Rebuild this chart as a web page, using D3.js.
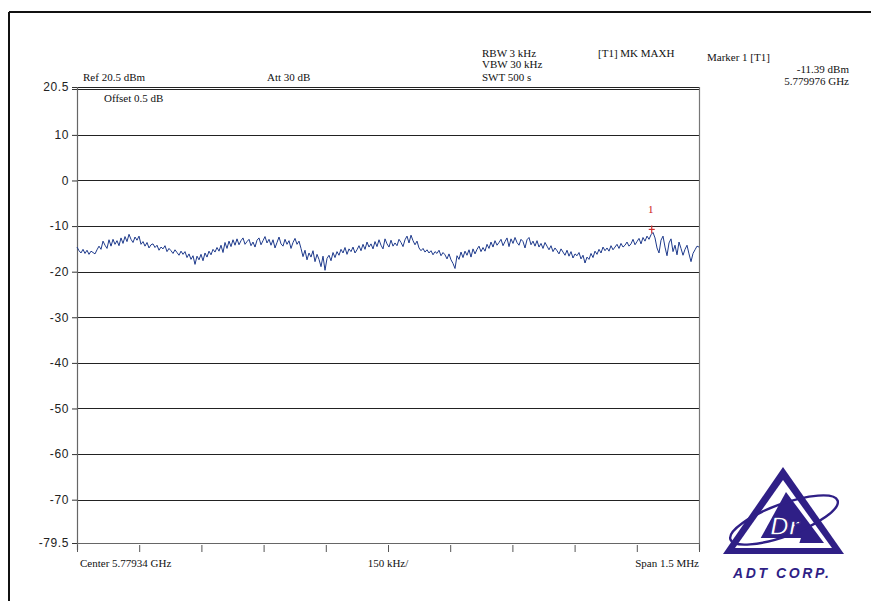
<!DOCTYPE html>
<html>
<head>
<meta charset="utf-8">
<script src="https://cdn.jsdelivr.net/npm/d3@7"></script>
<style>
  html, body { margin: 0; padding: 0; background: #fff; overflow: hidden; }
  svg { display: block; }
  .serif { font-family: "Liberation Serif", "Times New Roman", serif; font-size: 11px; fill: #111; }
</style>
</head>
<body>
<svg id="chart" width="871" height="601"></svg>
<script>
// ---------------- DATA ----------------
const centerMHz = 5779.34;      // Center 5.77934 GHz
const spanMHz = 1.5;            // Span 1.5 MHz
const divMHz = 0.15;            // 150 kHz/div
const refLevel = 20.5;          // Ref 20.5 dBm
const bottomLevel = -79.5;
const yTickValues = [20.5, 10, 0, -10, -20, -30, -40, -50, -60, -70, -79.5];
const yTickLabels = ["20.5", "10", "0", "-10", "-20", "-30", "-40", "-50", "-60", "-70", "-79.5"];
const headerLabels = ["Ref 20.5 dBm", "Att 30 dB", "RBW 3 kHz", "VBW 30 kHz", "SWT 500 s", "[T1] MK MAXH", "Offset 0.5 dB"];
const markerName = "Marker 1 [T1]";
const markerLevel = -11.39;     // dBm
const markerFreqGHz = 5.779976; // GHz
const bottomLabels = ["Center 5.77934 GHz", "150 kHz/", "Span 1.5 MHz"];

// trace levels (dBm), evenly spaced sweep points across the span
const traceLevels = [
  -14.6, -15.4, -15.9, -15.1, -16.0, -15.3, -16.2, -15.5, -15.8, -16.1,
  -15.2, -14.4, -15.1, -13.3, -14.2, -14.9, -13.0, -14.4, -12.9, -14.0,
  -13.2, -14.3, -12.6, -13.8, -12.3, -13.4, -11.8, -12.9, -13.6, -12.4,
  -13.1, -12.2, -14.0, -13.4, -14.4, -13.6, -14.8, -14.1, -13.9, -14.7,
  -14.2, -15.3, -14.6, -15.0, -14.3, -15.6, -14.9, -15.4, -16.0, -15.2,
  -15.8, -16.4, -15.5, -16.2, -15.6, -16.9, -16.1, -17.3, -16.5, -18.4,
  -16.6, -17.4, -16.2, -17.6, -15.9, -16.8, -15.5, -16.3, -15.1, -15.7,
  -14.7, -15.5, -14.2, -15.8, -13.6, -14.9, -13.3, -14.5, -13.0, -14.2,
  -12.8, -14.1, -13.2, -12.6, -14.0, -13.4, -12.9, -14.3, -13.5, -14.6,
  -13.1, -12.6, -14.1, -13.2, -12.3, -13.7, -12.9, -14.2, -13.0, -14.8,
  -13.6, -12.4, -13.9, -14.4, -12.9, -14.0, -13.2, -14.9, -13.6, -12.7,
  -14.0, -13.3, -14.9, -16.7, -15.3, -17.4, -15.9, -16.8, -15.4, -17.8,
  -16.2, -17.3, -18.9, -16.6, -19.7, -17.1, -16.4, -17.6, -15.8, -16.9,
  -15.6, -16.4, -15.1, -15.9, -14.7, -16.2, -15.0, -15.6, -14.6, -15.9,
  -15.2, -14.3, -15.4, -14.0, -15.1, -13.5, -14.6, -13.9, -15.0, -13.4,
  -14.5, -13.0, -14.2, -15.0, -12.8, -13.9, -14.6, -13.1, -14.4, -13.7,
  -14.3, -12.9, -13.6, -14.5, -13.0, -12.2, -13.7, -12.0, -13.2, -14.1,
  -13.3, -14.8, -15.4, -14.9, -15.7, -15.2, -15.9, -15.4, -16.3, -15.6,
  -16.0, -15.3, -16.5, -15.8, -16.3, -17.2, -16.1, -17.4, -18.2, -19.3,
  -16.5, -17.3, -15.7, -16.9, -15.5, -16.4, -15.2, -16.8, -15.0, -16.1,
  -15.1, -14.4, -15.6, -14.7, -15.5, -14.0, -14.9, -13.5, -14.6, -13.2,
  -14.2, -13.6, -12.9, -14.3, -13.4, -12.6, -14.5, -12.8, -13.8, -12.5,
  -13.6, -14.2, -12.9, -13.4, -14.8, -13.0, -12.5, -14.1, -13.3, -14.4,
  -13.2, -14.6, -13.8, -14.9, -13.6, -14.4, -15.2, -14.3, -15.6, -14.8,
  -15.4, -16.1, -15.0, -15.7, -16.4, -15.3, -16.6, -15.6, -17.0, -16.1,
  -16.5, -15.8, -17.2, -16.4, -18.1, -16.8, -17.3, -16.0, -16.9, -15.5,
  -16.2, -15.1, -15.9, -14.6, -15.4, -14.8, -15.5, -14.3, -15.2, -14.6,
  -14.0, -14.9, -13.8, -14.6, -14.2, -13.5, -14.4, -13.9, -12.9, -14.1,
  -13.4, -12.7, -13.9, -12.5, -13.3, -12.2, -12.9, -11.9, -11.4, -12.6,
  -14.8, -15.9, -13.1, -12.2, -14.6, -16.5, -13.7, -12.8, -15.6, -14.2,
  -16.3, -13.5, -14.9, -16.4, -15.1, -14.2, -16.1, -17.8, -16.0, -15.2,
  -14.4, -14.6
];

// ---------------- LAYOUT ----------------
const svg = d3.select("#chart");
const plot = { left: 77, right: 699, top: 87, bottom: 543 };
const startMHz = centerMHz - spanMHz / 2;
const stopMHz = centerMHz + spanMHz / 2;

const x = d3.scaleLinear().domain([startMHz, stopMHz]).range([plot.left, plot.right]);
const y = d3.scaleLinear().domain([bottomLevel, refLevel]).range([plot.bottom, plot.top]);

const n = traceLevels.length;
const trace = traceLevels.map((v, i) => ({ f: startMHz + i * spanMHz / (n - 1), v }));

// outer frame (top and left edges visible)
svg.append("line").attr("x1", 9).attr("x2", 871).attr("y1", 12).attr("y2", 12)
  .attr("stroke", "#111").attr("stroke-width", 2);
svg.append("line").attr("x1", 9).attr("x2", 9).attr("y1", 12).attr("y2", 601)
  .attr("stroke", "#111").attr("stroke-width", 2);

// gridlines
const gridVals = yTickValues.filter(v => v !== refLevel && v !== bottomLevel);
svg.append("g").selectAll("line").data(gridVals).join("line")
  .attr("x1", plot.left).attr("x2", plot.right)
  .attr("y1", d => Math.round(y(d)) + 0.5).attr("y2", d => Math.round(y(d)) + 0.5)
  .attr("stroke", "#222").attr("stroke-width", 1.2);

// top double line
[0, 2].forEach(o => svg.append("line").attr("x1", plot.left).attr("x2", plot.right)
  .attr("y1", y(refLevel) + o + 0.5).attr("y2", y(refLevel) + o + 0.5)
  .attr("stroke", "#222").attr("stroke-width", 1.2));

// plot frame left/right
svg.append("line").attr("x1", plot.left + 0.5).attr("x2", plot.left + 0.5).attr("y1", plot.top).attr("y2", plot.bottom)
  .attr("stroke", "#666").attr("stroke-width", 1.2);
svg.append("line").attr("x1", plot.right + 0.5).attr("x2", plot.right + 0.5).attr("y1", plot.top).attr("y2", plot.bottom)
  .attr("stroke", "#777").attr("stroke-width", 1.2);

// y axis
const yAxis = d3.axisLeft(y).tickValues(yTickValues)
  .tickFormat((d, i) => yTickLabels[i]).tickSize(5).tickPadding(3);
const gy = svg.append("g").attr("transform", `translate(${plot.left},0)`).call(yAxis);
gy.select(".domain").attr("stroke", "#666");
gy.selectAll(".tick line").attr("stroke", "#333");
gy.selectAll(".tick text").attr("font-family", "'Liberation Sans', Arial, sans-serif")
  .attr("font-size", 12).attr("letter-spacing", 0.6).attr("fill", "#222");
// double tick at ref level
svg.append("line").attr("x1", plot.left - 5).attr("x2", plot.left)
  .attr("y1", y(refLevel) + 2.5).attr("y2", y(refLevel) + 2.5).attr("stroke", "#333");

// x axis (ticks only)
const xTicks = d3.range(0, 11).map(i => startMHz + i * divMHz);
const xAxis = d3.axisBottom(x).tickValues(xTicks).tickSize(7).tickFormat("");
const gx = svg.append("g").attr("transform", `translate(0,${plot.bottom})`).call(xAxis);
gx.select(".domain").attr("stroke", "#666").attr("stroke-width", 1.2);
gx.selectAll(".tick line").attr("stroke", "#555").attr("y1", 2).attr("y2", 9);

// bottom labels
svg.append("text").attr("class", "serif").attr("x", plot.left + 3).attr("y", 567).text(bottomLabels[0]);
svg.append("text").attr("class", "serif").attr("x", x(startMHz + 5 * divMHz)).attr("y", 567)
  .attr("text-anchor", "middle").text(bottomLabels[1]);
svg.append("text").attr("class", "serif").attr("x", plot.right).attr("y", 567)
  .attr("text-anchor", "end").text(bottomLabels[2]);

// header labels
const hdr = [
  [headerLabels[0], 83, 81], [headerLabels[1], 267, 81],
  [headerLabels[2], 482, 57], [headerLabels[3], 482, 68], [headerLabels[4], 482, 81],
  [headerLabels[5], 598, 57], [headerLabels[6], 104, 102]
];
hdr.forEach(([t, hx, hy]) => svg.append("text").attr("class", "serif").attr("x", hx).attr("y", hy).text(t));
svg.append("text").attr("class", "serif").attr("x", 707).attr("y", 61).text(markerName);
svg.append("text").attr("class", "serif").attr("x", 849).attr("y", 73).attr("text-anchor", "end")
  .text(`${markerLevel.toFixed(2)} dBm`);
svg.append("text").attr("class", "serif").attr("x", 849).attr("y", 85).attr("text-anchor", "end")
  .text(`${markerFreqGHz.toFixed(6)} GHz`);

// trace
const line = d3.line().x(d => x(d.f)).y(d => y(d.v));
svg.append("path").datum(trace).attr("d", line)
  .attr("fill", "none").attr("stroke", "#1e3a8c").attr("stroke-width", 1).attr("stroke-linejoin", "round");

// marker
const mx = x(markerFreqGHz * 1000), my = y(markerLevel);
svg.append("line").attr("x1", mx).attr("x2", mx).attr("y1", my - 7).attr("y2", my + 1)
  .attr("stroke", "#d03030").attr("stroke-width", 1.2);
svg.append("line").attr("x1", mx - 3).attr("x2", mx + 3).attr("y1", my - 3).attr("y2", my - 3)
  .attr("stroke", "#d03030").attr("stroke-width", 1.2);
svg.append("text").attr("class", "serif").attr("x", mx - 1).attr("y", my - 19)
  .attr("text-anchor", "middle").style("fill", "#cc2020").attr("font-size", 12).text("1");

// ---------------- LOGO (ADT CORP.) ----------------
const purple = "#2f1f86";
const logo = svg.append("g");
logo.append("path").attr("d", "M783,467 L844,554 L723,554 Z").attr("fill", purple);
logo.append("path").attr("d", "M783,480 L832,548 L735,548 Z").attr("fill", "#fff");
logo.append("path").attr("d", "M786,492 L824,543 L758,543 Z").attr("fill", purple);
logo.append("path").attr("d", "M771,499 L777,499 L757,538 L801,538 L799,544 L749,544 Z").attr("fill", "#fff");
logo.append("ellipse").attr("cx", 784).attr("cy", 520).attr("rx", 57).attr("ry", 16)
  .attr("transform", "rotate(-20,784,520)").attr("fill", "none").attr("stroke", purple).attr("stroke-width", 2.4);
logo.append("text").attr("x", 770).attr("y", 535)
  .attr("font-family", "'Liberation Sans', Arial, sans-serif").attr("font-weight", "bold").attr("font-style", "italic")
  .attr("font-size", 26).attr("fill", "#fff").attr("stroke", purple).attr("stroke-width", 1.3).text("Dr");
logo.append("text").attr("x", 733).attr("y", 578)
  .attr("font-family", "'Liberation Sans', Arial, sans-serif").attr("font-weight", "bold").attr("font-style", "italic")
  .attr("font-size", 14).attr("letter-spacing", 2.6).attr("fill", purple).text("ADT CORP.");
</script>
</body>
</html>
